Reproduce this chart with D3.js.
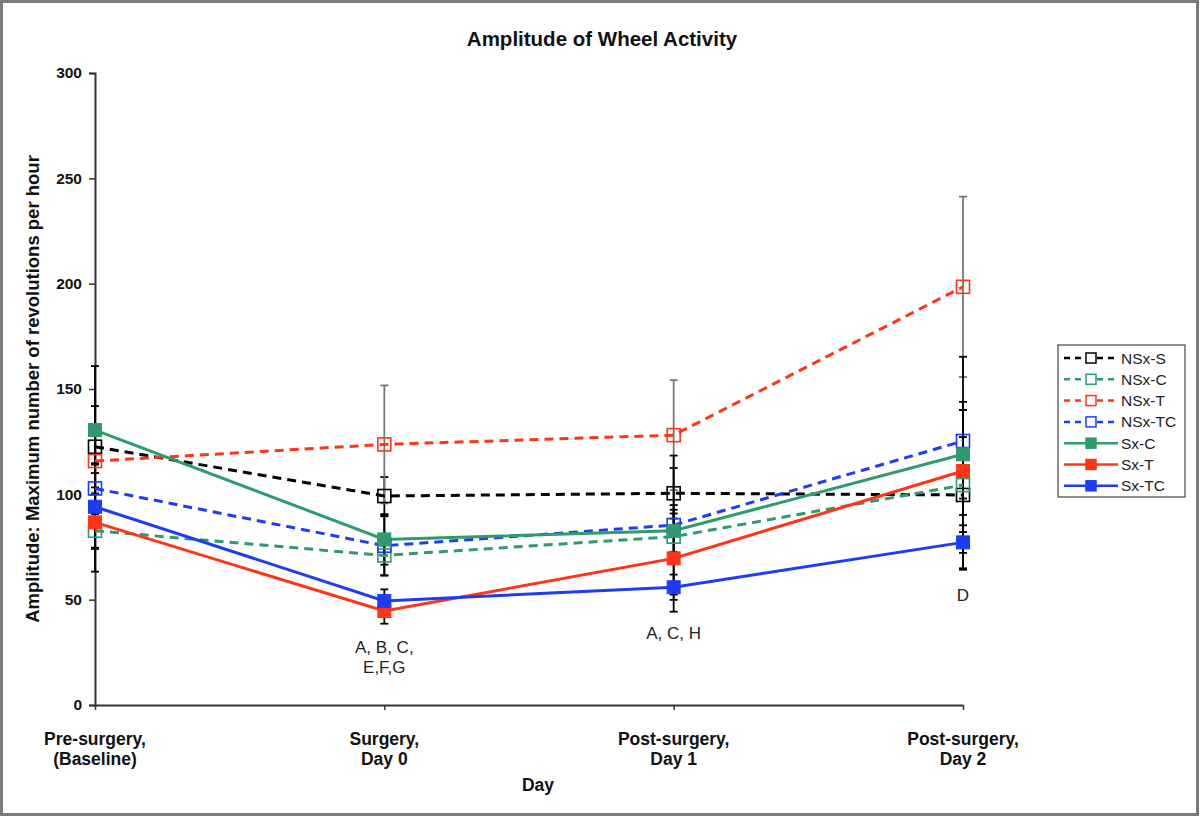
<!DOCTYPE html>
<html>
<head>
<meta charset="utf-8">
<script src="https://cdn.jsdelivr.net/npm/d3@7"></script>
<style>
  html, body { margin: 0; padding: 0; background: #fff; }
  svg { display: block; font-family: "Liberation Sans", Arial, sans-serif; }
</style>
</head>
<body>
<svg id="chart" width="1200" height="817"></svg>
<script>
// ---- Data ----
const categories = [["Pre-surgery,", "(Baseline)"], ["Surgery,", "Day 0"], ["Post-surgery,", "Day 1"], ["Post-surgery,", "Day 2"]];
const seriesNames = ["NSx-S", "NSx-C", "NSx-T", "NSx-TC", "Sx-C", "Sx-T", "Sx-TC"];
const seriesColors = ["#000000", "#2e9b6c", "#ff3418", "#1f3cf5", "#2e9b6c", "#ff3418", "#1f3cf5"];
const seriesDashed = [true, true, true, true, false, false, false];
const valNSxS  = [122.6, 99.2, 100.5, 99.7];
const valNSxC  = [82.7, 71.0, 79.9, 104.4];
const valNSxT  = [115.8, 123.7, 128.1, 198.5];
const valNSxTC = [102.8, 75.6, 85.4, 125.3];
const valSxC   = [130.5, 78.6, 82.7, 119.0];
const valSxT   = [86.7, 44.6, 69.6, 111.1];
const valSxTC  = [94.1, 49.4, 55.9, 77.2];
const errNSxS  = [19.3, 9, 12, 27.5];
const errNSxC  = [8, 9.6, 11, 39.5];
const errNSxT  = [15, 28, 26.1, 42.8];
const errNSxTC = [12, 14, 33, 40];
const errSxC   = [30.4, 12, 10, 21];
const errSxT   = [23.4, 6, 25.3, 29];
const errSxTC  = [20, 5.5, 6, 13];
const errColors = ["#000", "#000", "#777", "#000", "#000", "#000", "#000"];
const yTicks = [0, 50, 100, 150, 200, 250, 300];
const annotations = [[], ["A, B, C,", "E,F,G"], ["A, C, H"], ["D"]];

const values = [valNSxS, valNSxC, valNSxT, valNSxTC, valSxC, valSxT, valSxTC];
const errors = [errNSxS, errNSxC, errNSxT, errNSxTC, errSxC, errSxT, errSxTC];

const svg = d3.select("#chart");
const W = 1200, H = 817;

// frame
svg.append("rect").attr("x", 1.5).attr("y", 1.5).attr("width", W - 4).attr("height", H - 4)
  .attr("fill", "#fff").attr("stroke", "#7a7a7a").attr("stroke-width", 3);

const x = d3.scalePoint().domain(d3.range(categories.length)).range([95, 963]).padding(0);
const y = d3.scaleLinear().domain([0, 300]).range([705, 73]);

// title
svg.append("text").attr("x", 602).attr("y", 46).attr("text-anchor", "middle")
  .attr("font-size", 20.5).attr("font-weight", "bold").attr("fill", "#111").text("Amplitude of Wheel Activity");

// y axis
const yAxis = svg.append("g").attr("transform", "translate(95,0)")
  .call(d3.axisLeft(y).tickValues(yTicks).tickSize(6).tickPadding(7));
yAxis.attr("font-size", null).attr("font-family", null);
yAxis.select(".domain").attr("stroke", "#333").attr("stroke-width", 2);
yAxis.selectAll(".tick line").attr("stroke", "#333").attr("stroke-width", 1.5);
yAxis.selectAll(".tick text")
  .style("font-size", "15.5px").style("font-weight", "bold").style("fill", "#111")
  .style("font-family", "'Liberation Sans', Arial, sans-serif");

// x axis
const xAxis = svg.append("g").attr("transform", "translate(0,705)")
  .call(d3.axisBottom(x).tickSize(5).tickSizeOuter(0).tickFormat(""));
xAxis.select(".domain").attr("stroke", "#333").attr("stroke-width", 2);
xAxis.selectAll(".tick line").attr("stroke", "#333").attr("stroke-width", 1.5);

// x category labels
categories.forEach((lines, i) => {
  const t = svg.append("text").attr("text-anchor", "middle")
    .attr("font-size", 17.5).attr("font-weight", "bold").attr("fill", "#111");
  lines.forEach((l, k) => t.append("tspan").attr("x", x(i)).attr("y", 745 + k * 20).text(l));
});

// axis titles
svg.append("text").attr("x", 538).attr("y", 791).attr("text-anchor", "middle")
  .attr("font-size", 17.5).attr("font-weight", "bold").attr("fill", "#111").text("Day");
svg.append("text").attr("transform", "translate(39,389) rotate(-90)").attr("text-anchor", "middle")
  .attr("font-size", 18.5).attr("font-weight", "bold").attr("fill", "#111")
  .text("Amplitude: Maximum number of revolutions per hour");

// error bars
const eb = svg.append("g");
values.forEach((vals, s) => {
  vals.forEach((v, i) => {
    const e = errors[s][i];
    const cx = x(i);
    const g = eb.append("g").attr("stroke", errColors[s]).attr("stroke-width", 1.8);
    g.append("line").attr("x1", cx).attr("x2", cx).attr("y1", y(v + e)).attr("y2", y(v - e));
    g.append("line").attr("x1", cx - 4).attr("x2", cx + 4).attr("y1", y(v + e)).attr("y2", y(v + e));
    g.append("line").attr("x1", cx - 4).attr("x2", cx + 4).attr("y1", y(v - e)).attr("y2", y(v - e));
  });
});

// lines and markers
const line = d3.line().x((d, i) => x(i)).y(d => y(d));
const order = [0, 1, 2, 3, 4, 5, 6];
order.forEach(s => {
  svg.append("path").datum(values[s]).attr("d", line).attr("fill", "none")
    .attr("stroke", seriesColors[s]).attr("stroke-width", 3)
    .attr("stroke-dasharray", seriesDashed[s] ? "9,6" : null);
});
order.forEach(s => {
  const sz = 13;
  svg.append("g").selectAll("rect").data(values[s]).join("rect")
    .attr("x", (d, i) => x(i) - sz / 2).attr("y", d => y(d) - sz / 2)
    .attr("width", sz).attr("height", sz)
    .attr("fill", seriesDashed[s] ? "none" : seriesColors[s])
    .attr("stroke", seriesColors[s]).attr("stroke-width", seriesDashed[s] ? 1.6 : 1);
});

// annotations
annotations.forEach((lines, i) => {
  if (!lines.length) return;
  const baseY = { 1: 653, 2: 639, 3: 601 }[i];
  const t = svg.append("text").attr("text-anchor", "middle").attr("font-size", 17).attr("fill", "#222");
  lines.forEach((l, k) => t.append("tspan").attr("x", x(i)).attr("y", baseY + k * 20).text(l));
});

// legend
const lg = svg.append("g").attr("transform", "translate(1058,345)");
lg.append("rect").attr("x", 0).attr("y", 0).attr("width", 127).attr("height", 152)
  .attr("fill", "#fff").attr("stroke", "#444").attr("stroke-width", 1.2);
seriesNames.forEach((n, s) => {
  const yy = 13 + s * 21.3;
  lg.append("line").attr("x1", 6).attr("x2", 60).attr("y1", yy).attr("y2", yy)
    .attr("stroke", seriesColors[s]).attr("stroke-width", 2.5)
    .attr("stroke-dasharray", seriesDashed[s] ? "6,5" : null);
  lg.append("rect").attr("x", 28).attr("y", yy - 5).attr("width", 10).attr("height", 10)
    .attr("fill", seriesDashed[s] ? "#fff" : seriesColors[s]).attr("stroke", seriesColors[s]).attr("stroke-width", 1.5);
  lg.append("text").attr("x", 63).attr("y", yy + 5.5).attr("font-size", 15.5).attr("fill", "#222").text(n);
});
</script>
</body>
</html>
